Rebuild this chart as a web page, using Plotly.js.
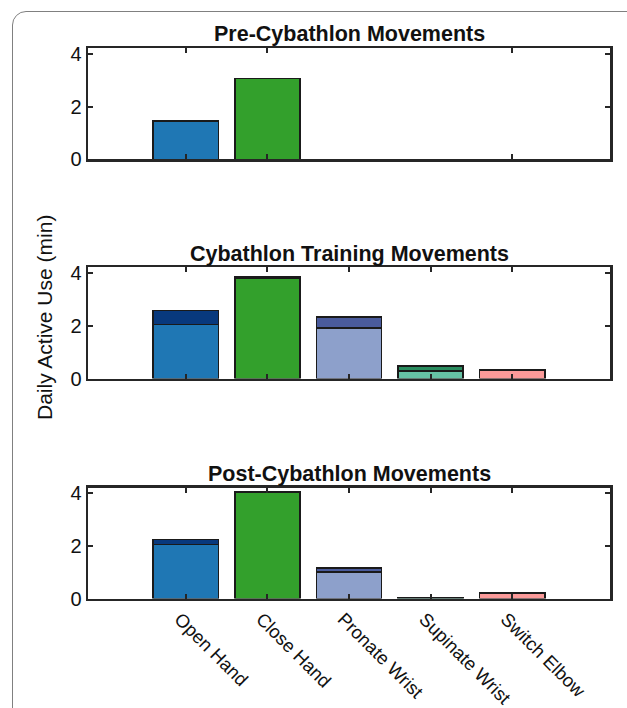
<!DOCTYPE html>
<html>
<head>
<meta charset="utf-8">
<script src="https://cdn.plot.ly/plotly-3.0.1.min.js"></script>
<style>
  html, body { margin: 0; padding: 0; background: #fff; overflow: hidden; }
  #wrap { position: relative; width: 627px; height: 708px; overflow: hidden; }
  #frame { position: absolute; left: 12px; top: 11px; width: 680px; height: 760px;
           border: 1.5px solid #808080; border-radius: 14px; pointer-events: none; z-index: 5; }
  #chart { position: absolute; left: 0; top: 0; width: 627px; height: 708px; }
</style>
</head>
<body>
<div id="wrap">
  <div id="chart"></div>
  <div id="frame"></div>
</div>
<script>
// ---- data ----
const categories = ['Open Hand', 'Close Hand', 'Pronate Wrist', 'Supinate Wrist', 'Switch Elbow'];
const panelTitles = ['Pre-Cybathlon Movements', 'Cybathlon Training Movements', 'Post-Cybathlon Movements'];
const yTitle = 'Daily Active Use (min)';
const yTickVals = [0, 2, 4];

const preBase       = [1.45, 3.07, null, null, null];
const preExtra      = [null, null, null, null, null];
const trainingBase  = [2.05, 3.80, 1.92, 0.29, 0.32];
const trainingExtra = [0.52, 0.05, 0.41, 0.19, null];
const postBase      = [2.06, 4.04, 1.01, 0.02, 0.20];
const postExtra     = [0.19, null, 0.16, null, null];

// ---- styles ----
const baseColors  = ['#1f77b4', '#33a02c', '#8da0cb', '#66c2a5', '#fb9a99'];
const extraColors = ['#08397d', '#1f6e1a', '#4a5b9c', '#2a8c5f', '#d9605f'];

const panels = [
  { base: preBase, extra: preExtra, ax: '' },
  { base: trainingBase, extra: trainingExtra, ax: '2' },
  { base: postBase, extra: postExtra, ax: '3' }
];

const traces = [];
panels.forEach(p => {
  const xa = 'x' + p.ax, ya = 'y' + p.ax;
  traces.push({
    type: 'bar', x: categories, y: p.base, xaxis: xa, yaxis: ya, width: 0.8,
    marker: { color: baseColors, line: { color: '#1a1a1a', width: 1.6 } },
    hoverinfo: 'x+y', showlegend: false
  });
  traces.push({
    type: 'bar', x: categories, y: p.extra, xaxis: xa, yaxis: ya, width: 0.8,
    marker: { color: extraColors, line: { color: '#1a1a1a', width: 1.6 } },
    hoverinfo: 'x+y', showlegend: false
  });
});

const H = 708;
const dom = (top, bottom) => [1 - bottom / H, 1 - top / H];
const font = 'Liberation Sans, Arial, Helvetica, sans-serif';
const axColor = '#262626';

function xAxis(anchor, showLabels, tickIdx) {
  return {
    anchor: anchor, type: 'category', categoryorder: 'array', categoryarray: categories,
    range: [-1.2, 5.2], showline: true, mirror: 'ticks', linewidth: 2.5, linecolor: axColor,
    ticks: 'inside', ticklen: 5, tickwidth: 2, tickcolor: axColor,
    tickmode: 'array', tickvals: tickIdx.map(i => categories[i]), ticktext: tickIdx.map(i => categories[i]),
    showticklabels: showLabels, tickangle: 45, ticklabelshift: -6,
    tickfont: { family: font, size: 18.5, color: '#111' },
    showgrid: false, zeroline: false, fixedrange: true
  };
}
function yAxis(anchor, domain) {
  return {
    anchor: anchor, domain: domain, range: [0, 4.22],
    showline: true, mirror: 'ticks', linewidth: 2.5, linecolor: axColor,
    ticks: 'inside', ticklen: 5, tickwidth: 2, tickcolor: axColor,
    tickmode: 'array', tickvals: yTickVals, ticktext: yTickVals.map(String),
    tickfont: { family: font, size: 20, color: '#111' },
    showgrid: false, zeroline: false, fixedrange: true
  };
}

const d1 = dom(48.3, 159.3), d2 = dom(267, 378.5), d3 = dom(487.5, 598.5);
const titleY = [34, 254, 474];

const layout = {
  width: 627, height: 708,
  margin: { l: 88, r: 17, t: 0, b: 0 },
  paper_bgcolor: 'rgba(0,0,0,0)', plot_bgcolor: '#fff',
  barmode: 'stack', bargap: 0.2,
  font: { family: font, color: '#111' },
  xaxis: xAxis('y', false, [0, 1, 4]),
  yaxis: yAxis('x', d1),
  xaxis2: xAxis('y2', false, [0, 1, 2, 3, 4]),
  yaxis2: yAxis('x2', d2),
  xaxis3: xAxis('y3', true, [0, 1, 2, 3, 4]),
  yaxis3: yAxis('x3', d3),
  annotations: panelTitles.map((t, i) => ({
    text: '<b>' + t + '</b>', xref: 'paper', yref: 'paper', x: 0.5, y: 1 - titleY[i] / H,
    xanchor: 'center', yanchor: 'middle', showarrow: false,
    font: { family: font, size: 21.5, color: '#111' }
  })).concat([{
    text: yTitle, xref: 'paper', yref: 'paper', x: -44 / 522, y: 1 - 318 / H,
    xanchor: 'center', yanchor: 'middle', showarrow: false, textangle: -90,
    font: { family: font, size: 21, color: '#111' }
  }])
};

Plotly.newPlot('chart', traces, layout, { displayModeBar: false, staticPlot: true });
</script>
</body>
</html>
